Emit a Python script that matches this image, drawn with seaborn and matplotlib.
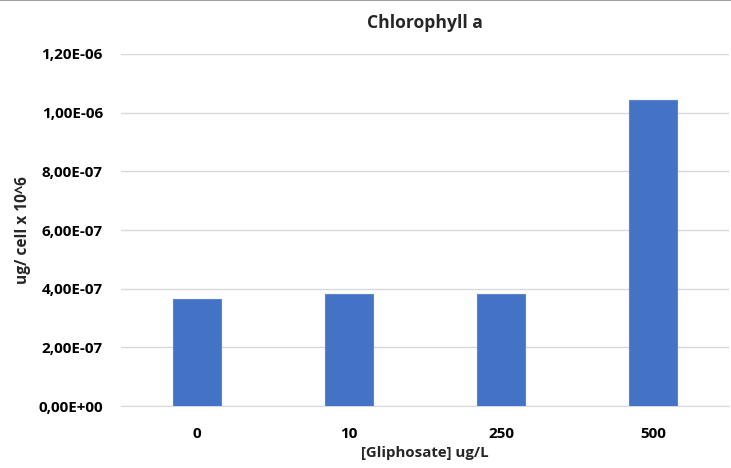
import matplotlib
matplotlib.use("Agg")
import matplotlib.pyplot as plt
import seaborn as sns
import pandas as pd
from matplotlib.ticker import FuncFormatter, MultipleLocator

categories = ["0", "10", "250", "500"]
values = [3.66e-7, 3.81e-7, 3.83e-7, 1.042e-6]

df = pd.DataFrame({"cat": categories, "val": values})

sns.set_style("white")
plt.rcParams['font.family'] = ['Open Sans', 'DejaVu Sans']

fig = plt.figure(figsize=(7.31, 4.68), dpi=100)
ax = fig.add_axes([121/731, 1-406/468, (729-121)/731, (406-54)/468])
sns.barplot(data=df, x="cat", y="val", color="#4472C4", width=0.315,
            saturation=1, ax=ax, edgecolor="#5B86CF", linewidth=0.8, zorder=3)

ax.set_ylim(0, 1.2e-6)
ax.yaxis.set_major_locator(MultipleLocator(2e-7))
ax.yaxis.set_major_formatter(FuncFormatter(lambda v, p: f"{v:.2E}".replace('.', ',')))
ax.grid(axis='y', color="#D9D9D9", linewidth=1, zorder=0)
ax.set_axisbelow(True)
for s in ["top", "right", "left"]:
    ax.spines[s].set_visible(False)
ax.spines["bottom"].set_color("#D9D9D9")
ax.tick_params(axis='both', length=0, labelsize=11, colors="#000000", pad=13)
for lab in ax.get_xticklabels() + ax.get_yticklabels():
    lab.set_fontweight("bold")
ax.tick_params(axis='x', pad=15)

ax.set_xlabel("[Gliphosate] ug/L", fontsize=10.8, fontweight="bold", labelpad=4)
ax.set_ylabel("ug/ cell x 10^6", fontsize=11.2, fontweight="bold", labelpad=5)
fig.text((121+729)/2/731, 1-23/468, "Chlorophyll a", ha="center", va="center",
         fontsize=12.6, fontweight="bold")

# top border line
fig.add_artist(plt.Line2D([0, 1], [0.999, 0.999], color="#A0A0A0", linewidth=1.5,
                          transform=fig.transFigure))

fig.savefig("out.png", dpi=100)
